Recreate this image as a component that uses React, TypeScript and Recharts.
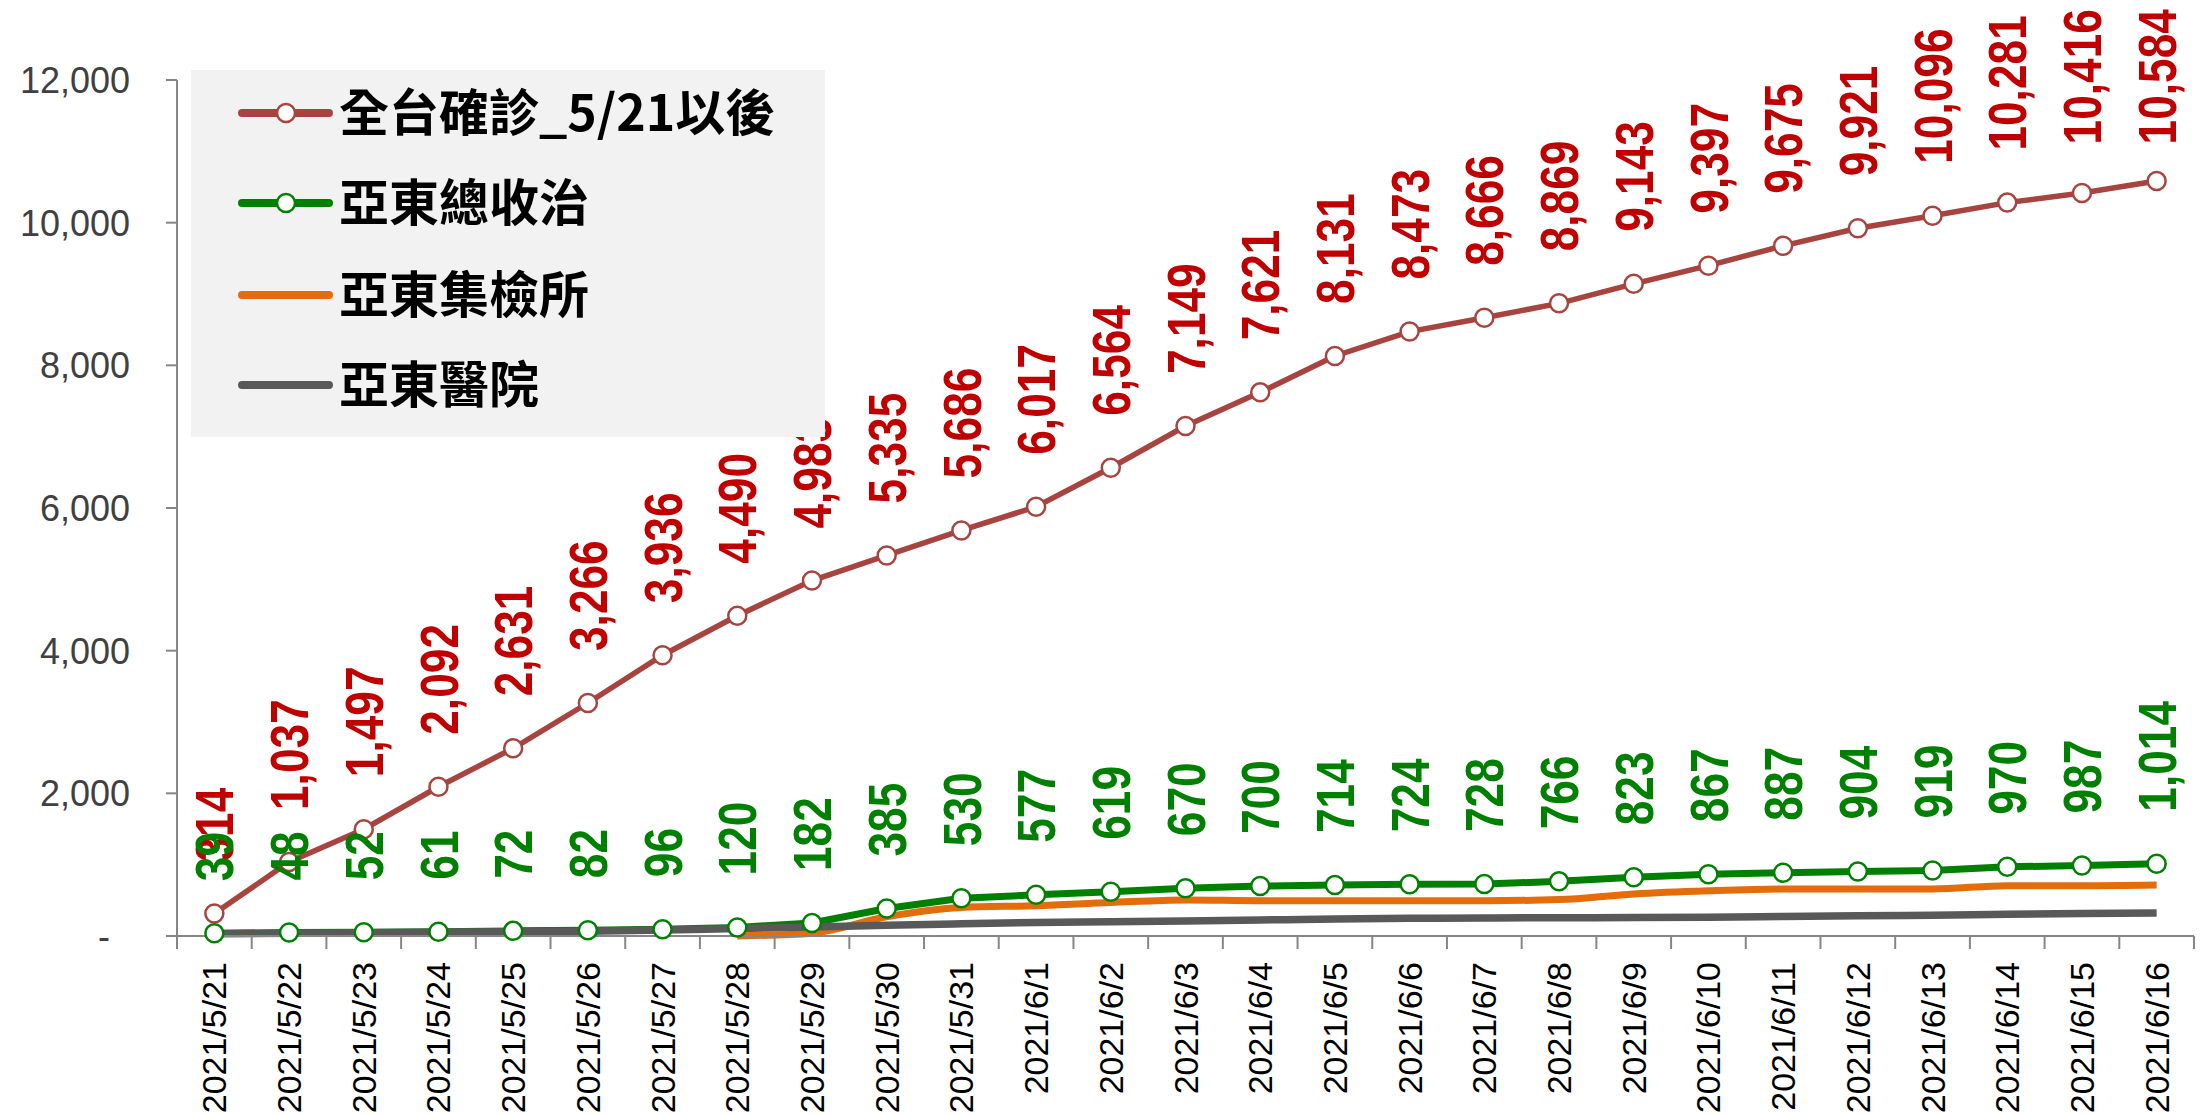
import React from 'react';
import { LineChart, Line, XAxis, YAxis, Legend } from 'recharts';

const DATES = [
  '2021/5/21', '2021/5/22', '2021/5/23', '2021/5/24', '2021/5/25', '2021/5/26', '2021/5/27',
  '2021/5/28', '2021/5/29', '2021/5/30', '2021/5/31', '2021/6/1', '2021/6/2', '2021/6/3',
  '2021/6/4', '2021/6/5', '2021/6/6', '2021/6/7', '2021/6/8', '2021/6/9', '2021/6/10',
  '2021/6/11', '2021/6/12', '2021/6/13', '2021/6/14', '2021/6/15', '2021/6/16',
];

const TAIWAN_CASES = [
  314, 1037, 1497, 2092, 2631, 3266, 3936, 4490, 4983, 5335, 5686, 6017, 6564, 7149,
  7621, 8131, 8473, 8666, 8869, 9143, 9397, 9675, 9921, 10096, 10281, 10416, 10584,
];

const ADH_TOTAL = [
  39, 48, 52, 61, 72, 82, 96, 120, 182, 385, 530, 577, 619, 670,
  700, 714, 724, 728, 766, 823, 867, 887, 904, 919, 970, 987, 1014,
];

const ADH_QUARANTINE = [
  null, null, null, null, null, null, null, 0, 40, 270, 400, 425, 470, 505,
  495, 495, 495, 495, 510, 590, 635, 660, 660, 660, 705, 705, 715,
];

const ADH_HOSPITAL = [
  30, 38, 45, 52, 60, 68, 84, 105, 125, 150, 170, 190, 200, 212,
  225, 238, 248, 253, 256, 258, 262, 275, 285, 292, 305, 315, 322,
];

const SERIES_NAMES = ['全台確診_5/21以後', '亞東總收治', '亞東集檢所', '亞東醫院'];
const Y_TICKS = [0, 2000, 4000, 6000, 8000, 10000, 12000];

const data = DATES.map((d, i) => ({
  date: d,
  taiwan: TAIWAN_CASES[i],
  total: ADH_TOTAL[i],
  quarantine: ADH_QUARANTINE[i],
  hospital: ADH_HOSPITAL[i],
}));

const W = 2208;
const H = 1116;
const PLOT_LEFT = 177;
const PLOT_RIGHT = 2194;
const PLOT_TOP = 80;
const PLOT_BOTTOM = 936;
const BAND = (PLOT_RIGHT - PLOT_LEFT) / DATES.length;

const RED_LINE = '#a8443f';
const RED_TEXT = '#c00000';
const GREEN = '#008000';
const ORANGE = '#e46c0a';
const GRAY = '#595959';
const AXIS = '#868686';

const FONT = "'Liberation Sans', Arial, sans-serif";
const LABEL_SIZE = 54;
const NARROW = 0.82;

const textLen = (s: string) =>
  s.split('').reduce((a, c) => a + (c === ',' ? 0.278 : 0.556), 0) * LABEL_SIZE * NARROW;

const makeLabel = (color: string) => (props: any) => {
  const { x, y, value, index } = props;
  if (value == null) return null;
  const s = Number(value).toLocaleString('en-US');
  const start = Math.max(y - 52, 9 + textLen(s));
  return (
    <text
      key={`lbl-${color}-${index}`}
      transform={`translate(${x},${start}) rotate(-90) scale(${NARROW},1)`}
      textAnchor="start"
      dominantBaseline="central"
      fill={color}
      fontSize={LABEL_SIZE}
      fontWeight="bold"
      fontFamily={FONT}
    >
      {s}
    </text>
  );
};

const YTick = (props: any) => {
  const { x, y, payload } = props;
  const v = payload.value;
  return (
    <text
      x={v === 0 ? x - 20 : x}
      y={y}
      dy="0.36em"
      textAnchor="end"
      fontSize={36}
      fill="#404040"
      fontFamily={FONT}
    >
      {v === 0 ? '-' : v.toLocaleString('en-US')}
    </text>
  );
};

const XTick = (props: any) => {
  const { x, y, payload, index } = props;
  const left = x - BAND / 2;
  return (
    <g>
      <line x1={left} x2={left} y1={y} y2={y + 13} stroke={AXIS} strokeWidth={2} />
      {index === DATES.length - 1 && (
        <line x1={x + BAND / 2} x2={x + BAND / 2} y1={y} y2={y + 13} stroke={AXIS} strokeWidth={2} />
      )}
      <text
        transform={`translate(${x},${y + 26}) rotate(-90)`}
        textAnchor="end"
        dominantBaseline="central"
        fontSize={34}
        fill="#000"
        fontFamily={FONT}
      >
        {payload.value}
      </text>
    </g>
  );
};

const LEGEND_COLORS = [RED_LINE, GREEN, ORANGE, GRAY];
const ROW_CENTERS = [43, 133, 225, 315];

const LegendBox = () => (
  <div style={{ position: 'relative', width: 634, height: 367, background: '#f2f2f2' }}>
    {SERIES_NAMES.map((name, i) => (
      <div
        key={name}
        style={{
          position: 'absolute',
          left: 0,
          top: ROW_CENTERS[i] - 45,
          height: 90,
          display: 'flex',
          alignItems: 'center',
        }}
      >
        <svg width={148} height={90}>
          <line x1={51} x2={138} y1={45} y2={45} stroke={LEGEND_COLORS[i]} strokeWidth={8} strokeLinecap="round" />
          {i < 2 && <circle cx={95} cy={45} r={9} fill="#fff" stroke={LEGEND_COLORS[i]} strokeWidth={2.5} />}
        </svg>
        <span
          style={{
            position: 'relative',
            top: -4,
            fontFamily: "'Noto Sans CJK TC', sans-serif",
            fontSize: 50,
            fontWeight: 700,
            lineHeight: '90px',
            whiteSpace: 'nowrap',
            color: '#000',
          }}
        >
          {name}
        </span>
      </div>
    ))}
  </div>
);

export default function App() {
  return (
    <div style={{ position: 'absolute', left: 0, top: 0, width: W, height: H, background: '#fff' }}>
      <LineChart
        width={W}
        height={H}
        data={data}
        margin={{ top: PLOT_TOP, right: W - PLOT_RIGHT, left: 0, bottom: 0 }}
      >
        <XAxis
          dataKey="date"
          interval={0}
          height={H - PLOT_BOTTOM}
          padding={{ left: BAND / 2, right: BAND / 2 }}
          axisLine={{ stroke: AXIS, strokeWidth: 2 }}
          tickLine={false}
          tickSize={0}
          tickMargin={0}
          tick={<XTick />}
        />
        <YAxis
          width={PLOT_LEFT}
          domain={[0, 12000]}
          ticks={Y_TICKS}
          interval={0}
          axisLine={{ stroke: AXIS, strokeWidth: 2 }}
          tickLine={{ stroke: AXIS, strokeWidth: 2 }}
          tickSize={11}
          tickMargin={36}
          tick={<YTick />}
        />
        <Legend
          layout="vertical"
          align="center"
          verticalAlign="middle"
          content={<LegendBox />}
          wrapperStyle={{ left: 191, top: 70, width: 634, height: 367 }}
        />
        <Line
          dataKey="taiwan"
          name={SERIES_NAMES[0]}
          type="linear"
          stroke={RED_LINE}
          strokeWidth={5.5}
          dot={{ r: 9, fill: '#fff', stroke: RED_LINE, strokeWidth: 2.5 }}
          activeDot={false}
          label={makeLabel(RED_TEXT)}
          isAnimationActive={false}
        />
        <Line
          dataKey="total"
          name={SERIES_NAMES[1]}
          type="linear"
          stroke={GREEN}
          strokeWidth={7}
          dot={{ r: 9, fill: '#fff', stroke: GREEN, strokeWidth: 2.5 }}
          activeDot={false}
          label={makeLabel(GREEN)}
          isAnimationActive={false}
        />
        <Line
          dataKey="quarantine"
          name={SERIES_NAMES[2]}
          type="monotone"
          stroke={ORANGE}
          strokeWidth={7}
          dot={false}
          activeDot={false}
          isAnimationActive={false}
        />
        <Line
          dataKey="hospital"
          name={SERIES_NAMES[3]}
          type="monotone"
          stroke={GRAY}
          strokeWidth={7.5}
          dot={false}
          activeDot={false}
          isAnimationActive={false}
        />
      </LineChart>
    </div>
  );
}
